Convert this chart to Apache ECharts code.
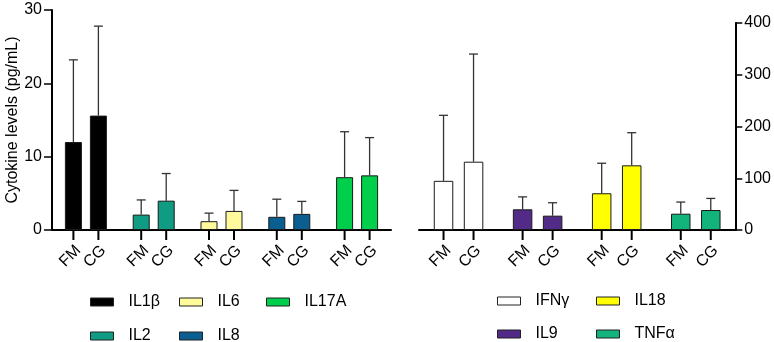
<!DOCTYPE html>
<html>
<head>
<meta charset="utf-8">
<script src="https://cdn.jsdelivr.net/npm/echarts@6/dist/echarts.min.js"></script>
<style>
  html, body { margin: 0; padding: 0; background: #fff; }
  #app { width: 774px; height: 342px; }
</style>
</head>
<body>
<div id="app"></div>
<script>
// left panel (pg/mL, 0-30)
const leftCytokines = ["IL1β", "IL2", "IL6", "IL8", "IL17A"];
const leftColors = ["#000000", "#0f9c82", "#fffb9c", "#0b5f90", "#00cf4c"];
const leftFM = [12.0, 2.1, 1.2, 1.8, 7.2];
const leftFMSD = [11.2, 2.0, 1.1, 2.4, 6.2];
const leftCG = [15.6, 4.0, 2.6, 2.2, 7.45];
const leftCGSD = [12.2, 3.7, 2.8, 1.7, 5.15];

// right panel (0-400)
const rightCytokines = ["IFNγ", "IL9", "IL18", "TNFα"];
const rightColors = ["#ffffff", "#522a87", "#ffff00", "#12b47c"];
const rightFM = [95, 40, 71, 31.5];
const rightFMSD = [126.6, 24, 58, 22.5];
const rightCG = [132, 27.7, 125, 38.6];
const rightCGSD = [208, 25, 63, 22.4];

const groups = ["FM", "CG"];
const FONT = "'Liberation Sans', Arial, sans-serif";

function barSeries(name, axis, values, colors, width, gap) {
  return {
    name: name,
    type: "bar",
    xAxisIndex: axis,
    yAxisIndex: axis,
    barWidth: width,
    barGap: gap,
    itemStyle: { borderColor: "#1a1a1a", borderWidth: 1 },
    data: values.map((v, i) => ({ value: v, itemStyle: { color: colors[i] } }))
  };
}

// error bar (mean + SD, upper only), x tick and rotated group label
function errSeries(label, axis, values, sd, shift) {
  return {
    type: "custom",
    xAxisIndex: axis,
    yAxisIndex: axis,
    silent: true,
    data: values.map((v, i) => [i, v, v + sd[i]]),
    renderItem: function (params, api) {
      const i = api.value(0);
      const base = api.coord([i, 0]);
      const cx = base[0] + shift;
      const y0 = api.coord([i, api.value(1)])[1];
      const y1 = api.coord([i, api.value(2)])[1];
      const ln = { stroke: "#333", lineWidth: 1.3 };
      return {
        type: "group",
        children: [
          { type: "line", shape: { x1: cx, y1: y0, x2: cx, y2: y1 }, style: ln },
          { type: "line", shape: { x1: cx - 4.5, y1: y1, x2: cx + 4.5, y2: y1 }, style: ln },
          { type: "line", shape: { x1: cx, y1: base[1], x2: cx, y2: base[1] + 10 },
            style: { stroke: "#000", lineWidth: 2 } },
          { type: "text", x: cx + 5, y: base[1] + 18, rotation: Math.PI / 4,
            style: { text: label, fill: "#000", font: "16px " + FONT,
                     align: "right", verticalAlign: "middle" } }
        ]
      };
    }
  };
}

function legendDummy(name, color) {
  return { name: name, type: "scatter", xAxisIndex: 0, yAxisIndex: 0, data: [],
           itemStyle: { color: color, opacity: 1 } };
}

function legendCol(names, left, top, gap) {
  return {
    data: names,
    orient: "vertical",
    left: left,
    top: top,
    height: 80,
    padding: 0,
    icon: "rect",
    itemWidth: 23,
    itemHeight: 8,
    itemGap: gap,
    selectedMode: false,
    itemStyle: { borderColor: "#222", borderWidth: 1, opacity: 1 },
    textStyle: { fontSize: 16, fontFamily: FONT, color: "#000", padding: [0, 0, 0, 10] }
  };
}

const axisLine = { show: true, lineStyle: { color: "#000", width: 2 } };

const series = [
  barSeries("FM", 0, leftFM, leftColors, 17, "47%"),
  barSeries("CG", 0, leftCG, leftColors, 17, "47%"),
  barSeries("FM", 1, rightFM, rightColors, 19.5, "54%"),
  barSeries("CG", 1, rightCG, rightColors, 19.5, "54%"),
  errSeries(groups[0], 0, leftFM, leftFMSD, -12.5),
  errSeries(groups[1], 0, leftCG, leftCGSD, 12.5),
  errSeries(groups[0], 1, rightFM, rightFMSD, -15),
  errSeries(groups[1], 1, rightCG, rightCGSD, 15)
];
leftCytokines.forEach((n, i) => series.push(legendDummy(n, leftColors[i])));
rightCytokines.forEach((n, i) => series.push(legendDummy(n, rightColors[i])));

const chart = echarts.init(document.getElementById("app"), null, { renderer: "canvas" });
chart.setOption({
  animation: false,
  backgroundColor: "#fff",
  textStyle: { fontFamily: FONT },
  grid: [
    { left: 52, right: 383, top: 10, bottom: 112 },
    { left: 419, right: 38, top: 23, bottom: 112 }
  ],
  xAxis: [
    { type: "category", gridIndex: 0, data: leftCytokines, axisLine: axisLine,
      axisTick: { show: false }, axisLabel: { show: false } },
    { type: "category", gridIndex: 1, data: rightCytokines, axisLine: axisLine,
      axisTick: { show: false }, axisLabel: { show: false } }
  ],
  yAxis: [
    { type: "value", gridIndex: 0, min: 0, max: 30, interval: 10,
      axisLine: axisLine, axisTick: { show: true, length: 8, lineStyle: { width: 1.5, color: "#000" } },
      axisLabel: { fontSize: 16, color: "#000", margin: 10, fontFamily: FONT },
      splitLine: { show: false },
      name: "Cytokine levels (pg/mL)", nameLocation: "middle", nameGap: 30,
      nameTextStyle: { fontSize: 16, color: "#000", fontFamily: FONT } },
    { type: "value", gridIndex: 1, position: "right", min: 0, max: 400, interval: 100,
      axisLine: axisLine, axisTick: { show: true, length: 7, lineStyle: { width: 1.5, color: "#000" } },
      axisLabel: { fontSize: 16, color: "#000", margin: 9, fontFamily: FONT },
      splitLine: { show: false } }
  ],
  legend: [
    legendCol(["IL1β", "IL2"], 90, 294, 18),
    legendCol(["IL6", "IL8"], 179, 294, 18),
    legendCol(["IL17A"], 266, 294, 18),
    legendCol(["IFNγ", "IL9"], 497, 293, 17),
    legendCol(["IL18", "TNFα"], 596, 293, 17)
  ],
  series: series
});
</script>
</body>
</html>
